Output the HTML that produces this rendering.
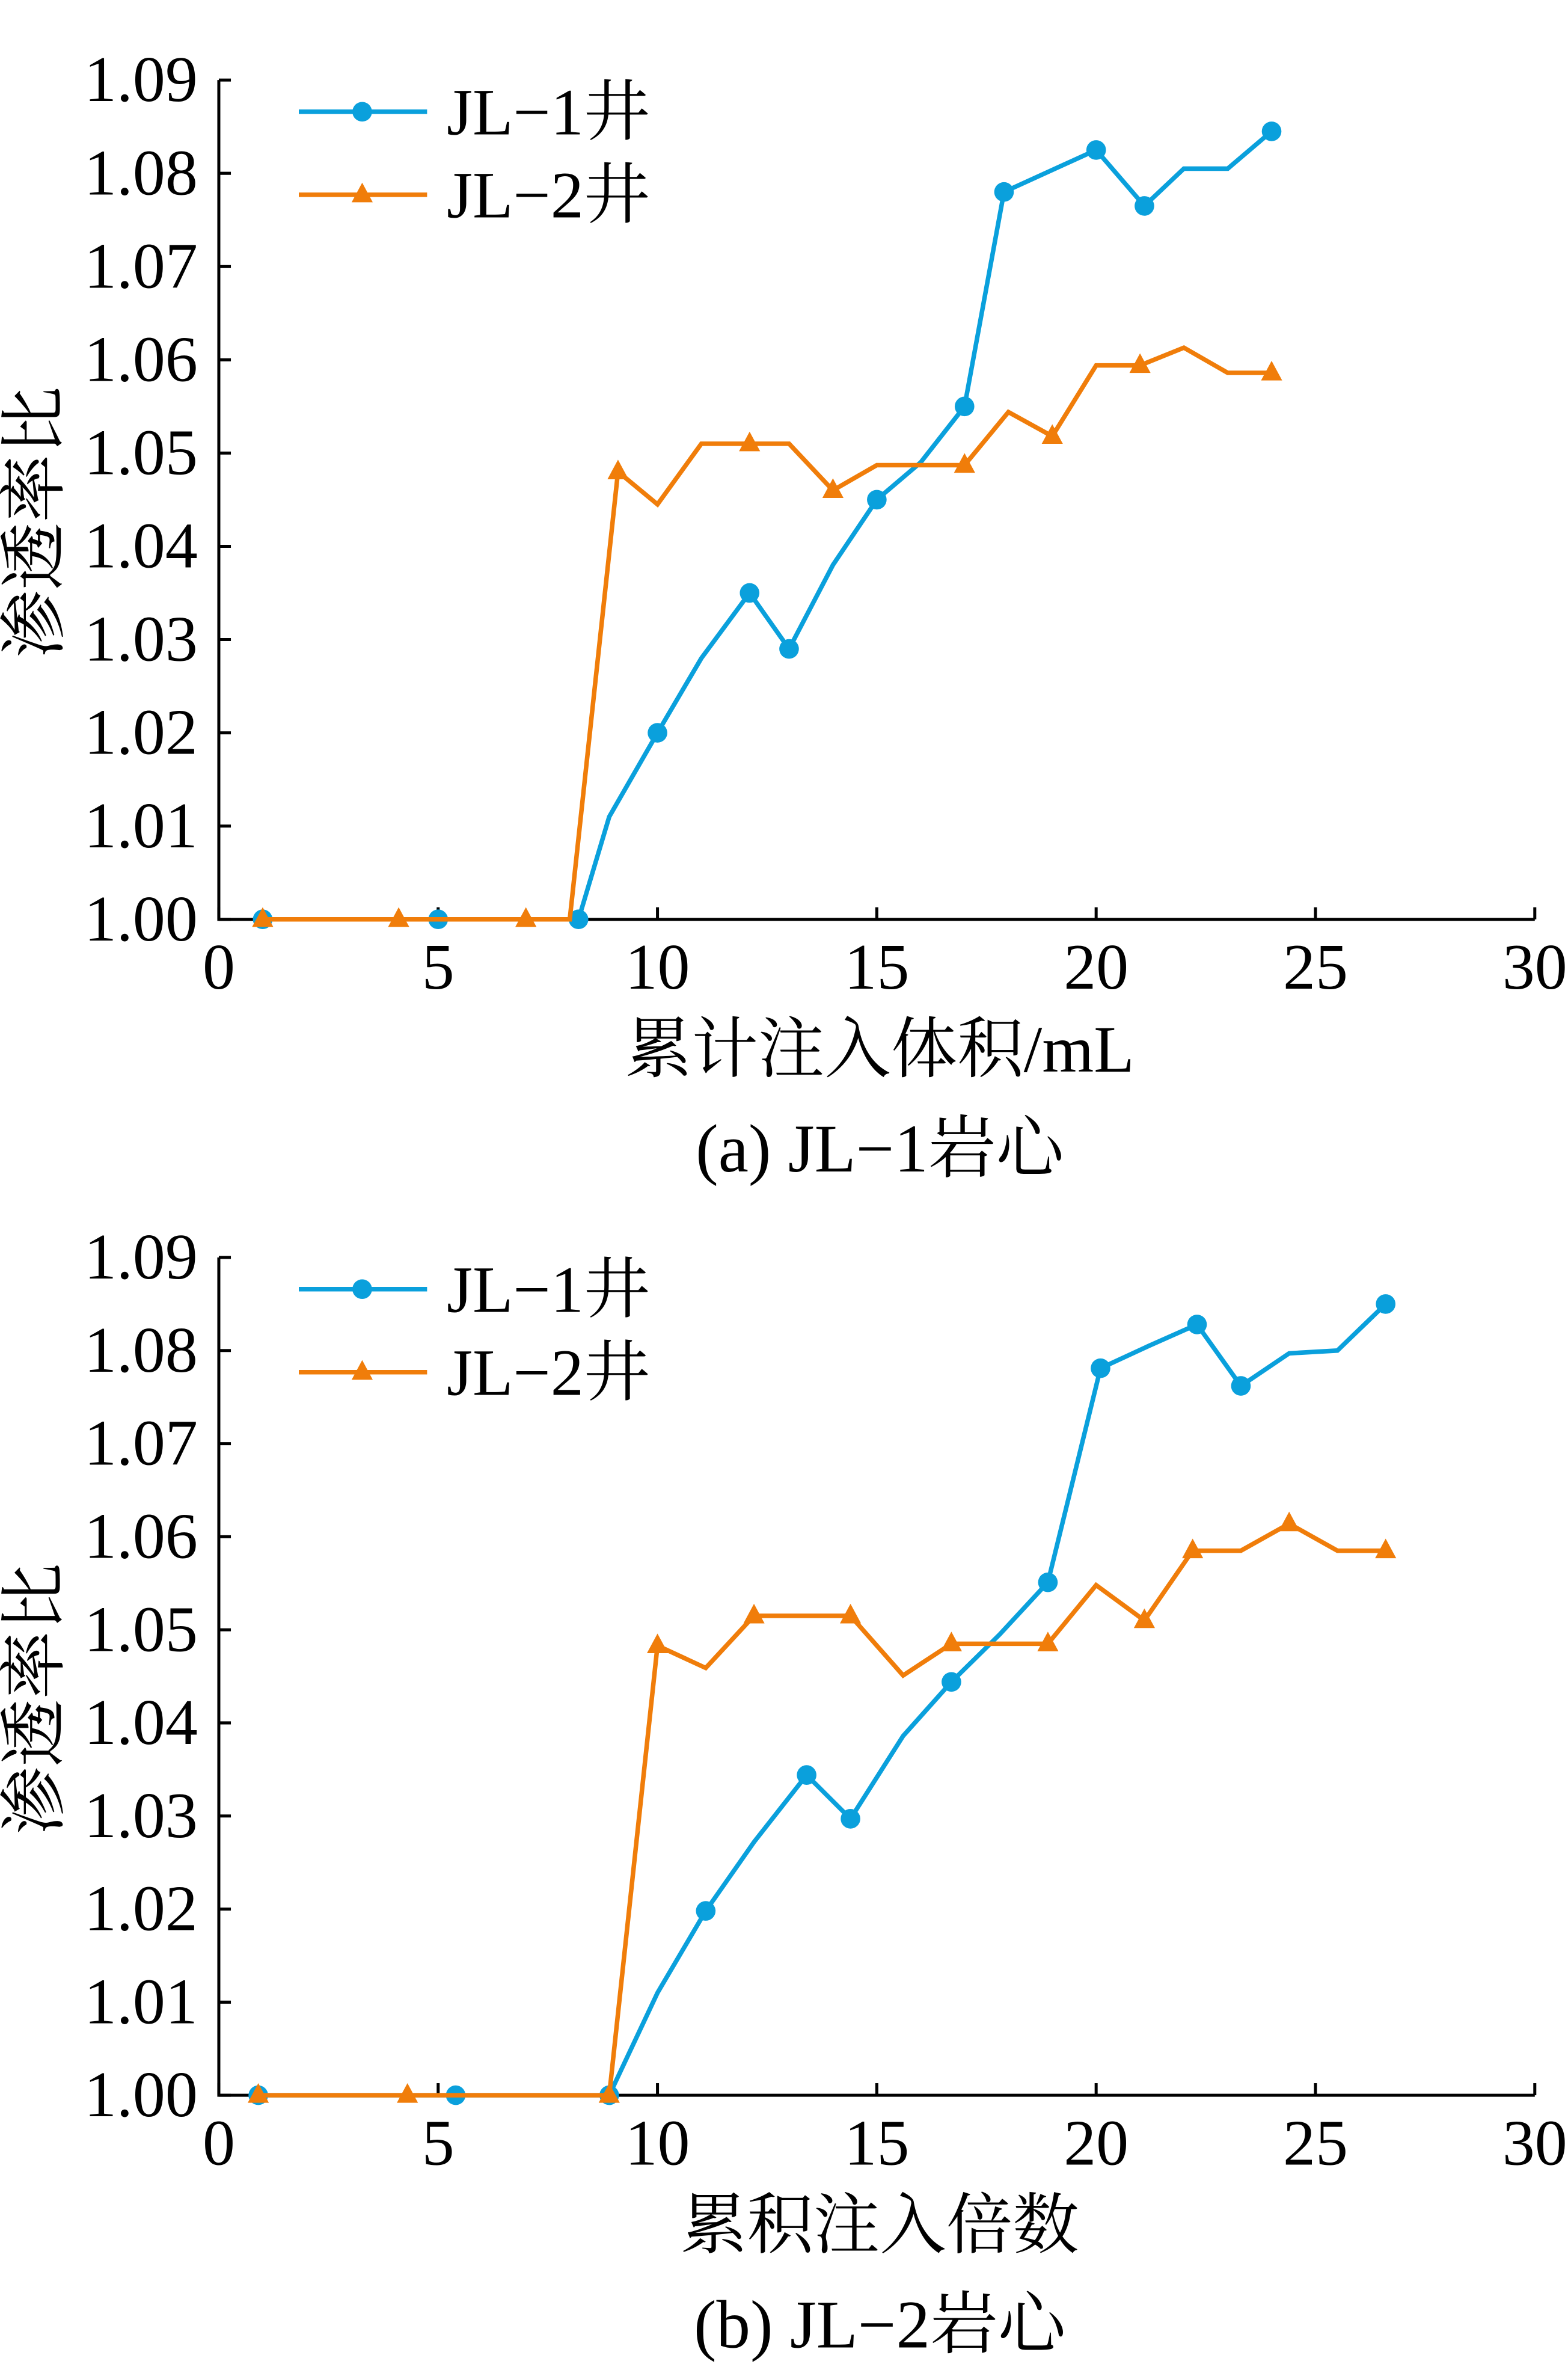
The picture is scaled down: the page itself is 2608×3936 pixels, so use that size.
<!DOCTYPE html>
<html><head><meta charset="utf-8">
<style>
html,body{margin:0;padding:0;background:#fff;}
svg{display:block;}
text{font-family:"Liberation Serif","Noto Serif CJK SC","Noto Sans CJK SC",serif;fill:#000;}
</style></head>
<body>
<svg id="fig" width="2608" height="3936" viewBox="0 0 1039 1568" xmlns="http://www.w3.org/2000/svg"></svg>
<script>
// ---- chart (a) data ----
const aBlueX = [1,5,8.2,8.9,10,11,12.1,13,14,15,16,17,17.9,20,21.1,22,23,24];
const aBlueY = [1.000,1.000,1.000,1.011,1.020,1.028,1.035,1.029,1.038,1.045,1.049,1.055,1.078,1.0825,1.0765,1.0805,1.0805,1.0845];
const aBlueM = [1,1,1,0,1,0,1,1,0,1,0,1,1,1,1,0,0,1];
const aOrX = [1,4.1,7,8,9.1,10,11,12.1,13,14,15,16,17,18,19,20,21,22,23,24];
const aOrY = [1.000,1.000,1.000,1.000,1.048,1.0445,1.051,1.051,1.051,1.046,1.0487,1.0487,1.0487,1.0544,1.0518,1.0594,1.0594,1.0613,1.0586,1.0586];
const aOrM = [1,1,1,0,1,0,0,1,0,1,0,0,1,0,1,0,1,0,0,1];
// ---- chart (b) data ----
const bBlueX = [0.9,5.4,8.9,10,11.1,12.2,13.4,14.4,15.6,16.7,17.8,18.9,20.1,21.2,22.3,23.3,24.4,25.5,26.6];
const bBlueY = [1.000,1.000,1.000,1.011,1.0198,1.0272,1.0344,1.0297,1.0386,1.0444,1.0495,1.0551,1.0781,1.0805,1.0828,1.0762,1.0797,1.0800,1.0850];
const bBlueM = [1,1,1,0,1,0,1,1,0,1,0,1,1,0,1,1,0,0,1];
const bOrX = [0.9,4.3,8.9,10,11.1,12.2,14.4,15.6,16.7,18.9,20,21.1,22.2,23.3,24.4,25.5,26.6];
const bOrY = [1.000,1.000,1.000,1.0483,1.0459,1.0515,1.0515,1.0451,1.0485,1.0485,1.0548,1.0510,1.0585,1.0585,1.0614,1.0585,1.0585];
const bOrM = [1,1,1,1,0,1,1,0,1,1,0,1,1,0,1,0,1];
// ---- ticks ----
const xTicks = [0,5,10,15,20,25,30];
const yTicks = [1.00,1.01,1.02,1.03,1.04,1.05,1.06,1.07,1.08,1.09];
const seriesNames = ["JL\u22121井","JL\u22122井"];

const NS = "http://www.w3.org/2000/svg";
const svg = document.getElementById("fig");
const BLUE = "#0aa0dc", ORANGE = "#f07d0a";
function mk(tag, attrs, parent){
  const e = document.createElementNS(NS, tag);
  for (const k in attrs) e.setAttribute(k, attrs[k]);
  (parent||svg).appendChild(e);
  return e;
}
function chart(id, top, bottom, xTitle, caption, bx, by, bm, ox, oy, om){
  const g = mk("g", {});
  
  
  const L = 145, R = 1017;
  const X = v => L + (v - 0) / 30 * (R - L);
  const Y = v => bottom - (v - 1.00) / 0.09 * (bottom - top);
  const axes = mk("path", {d:`M${L},${top} L${L},${bottom} L${R},${bottom}`, fill:"none", stroke:"#000", "stroke-width":2}, g);
  
  
  xTicks.forEach(t => {
    const tk = mk("line", {x1:X(t), x2:X(t), y1:bottom, y2:bottom-8, stroke:"#000", "stroke-width":2}, g);
    
    
    const tx = mk("text", {x:X(t), y:bottom+46, "text-anchor":"middle", "font-size":43}, g);
    tx.textContent = String(t);
    
    
  });
  yTicks.forEach(t => {
    const tk = mk("line", {x1:L, x2:L+8, y1:Y(t), y2:Y(t), stroke:"#000", "stroke-width":2}, g);
    
    
    const tx = mk("text", {x:L-14, y:Y(t)+14, "text-anchor":"end", "font-size":43}, g);
    tx.textContent = t.toFixed(2);
    
    
  });
  const yt = mk("text", {x:0, y:0, "text-anchor":"middle", "font-size":45, transform:`translate(38,${(top+bottom)/2 + 15}) rotate(-90)`}, g);
  yt.textContent = "渗透率比";
  
  
  const xt = mk("text", {x:583, y:bottom+101, "text-anchor":"middle", "font-size":44}, g);
  xt.textContent = xTitle;
  
  
  const cp = mk("text", {x:583, y:bottom+167, "text-anchor":"middle", "font-size":45}, g);
  cp.textContent = caption;
  
  

  function series(xs, ys, ms, color, tri, name){
    const sg = mk("g", {}, g);
    
    
    const pts = xs.map((x,i) => X(x)+","+Y(ys[i])).join(" ");
    const pl = mk("polyline", {points:pts, fill:"none", stroke:color, "stroke-width":3, "stroke-linejoin":"miter"}, sg);
    
    
    xs.forEach((x,i) => {
      if (!ms[i]) return;
      const cx = X(x), cy = Y(ys[i]);
      let m;
      if (tri) m = mk("polygon", {points:`${cx},${cy-8} ${cx-7},${cy+5} ${cx+7},${cy+5}`, fill:color}, sg);
      else m = mk("circle", {cx:cx, cy:cy, r:6.5, fill:color}, sg);
      
      
    });
  }
  series(bx, by, bm, BLUE, false, "series-jl1");
  series(ox, oy, om, ORANGE, true, "series-jl2");

  // legend
  const lg = mk("g", {}, g);
  
  
  [[BLUE,false,0],[ORANGE,true,1]].forEach(([c,tri,i]) => {
    const ly = top + 21 + i*55;
    const ln = mk("line", {x1:198, x2:283, y1:ly, y2:ly, stroke:c, "stroke-width":3}, lg);
    
    
    let m;
    if (tri) m = mk("polygon", {points:`240,${ly-8} 233,${ly+5} 247,${ly+5}`, fill:c}, lg);
    else m = mk("circle", {cx:240, cy:ly, r:6.5, fill:c}, lg);
    
    
    const t = mk("text", {x:296, y:ly+15, "font-size":44}, lg);
    t.textContent = seriesNames[i];
    
    
  });
}
chart("chart-a", 53, 609, "累计注入体积/mL", "(a) JL\u22121岩心", aBlueX, aBlueY, aBlueM, aOrX, aOrY, aOrM);
chart("chart-b", 833, 1388, "累积注入倍数", "(b) JL\u22122岩心", bBlueX, bBlueY, bBlueM, bOrX, bOrY, bOrM);
</script>
</body></html>
